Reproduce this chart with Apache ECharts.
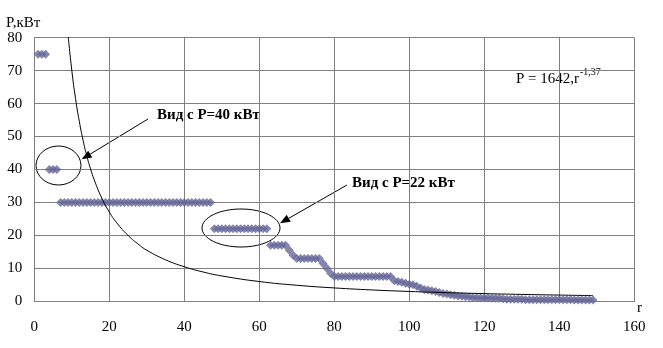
<!DOCTYPE html>
<html>
<head>
<meta charset="utf-8">
<script src="https://cdn.jsdelivr.net/npm/echarts@6/dist/echarts.min.js"></script>
<style>html,body{margin:0;padding:0;background:#fff;}#c{width:663px;height:348px;}</style>
</head>
<body>
<div id="c"></div>
<script>
// Ranked power values (r = 1..149), kW
var powerValues = [
  75, 75, 75,
  40, 40, 40,
  30, 30, 30, 30, 30, 30, 30, 30, 30, 30, 30, 30, 30, 30, 30, 30, 30, 30, 30, 30, 30,
  30, 30, 30, 30, 30, 30, 30, 30, 30, 30, 30, 30, 30, 30, 30, 30, 30, 30, 30, 30,
  22, 22, 22, 22, 22, 22, 22, 22, 22, 22, 22, 22, 22, 22, 22,
  17, 17, 17, 17, 17,
  15.5, 14,
  13, 13, 13, 13, 13, 13, 13,
  11.5, 10, 8.5,
  7.5, 7.5, 7.5, 7.5, 7.5, 7.5, 7.5, 7.5, 7.5, 7.5, 7.5, 7.5, 7.5, 7.5, 7.5, 7.5,
  6.2, 6, 5.8, 5.5, 5.2, 5, 4.6, 4, 3.6, 3.4, 3.2, 3, 2.7, 2.4, 2.2, 2, 1.8, 1.6, 1.5, 1.4, 1.3,
  1.1, 1.1, 1, 1, 1, 0.9, 0.9, 0.9, 0.8,
  0.6, 0.6, 0.6, 0.6, 0.6, 0.5, 0.5, 0.5, 0.5, 0.5, 0.5, 0.5, 0.5, 0.5, 0.5, 0.5,
  0.5, 0.5, 0.4, 0.4, 0.4, 0.4, 0.4, 0.4
];
// Trend curve
var trendR = [9, 10, 11, 12, 13, 14, 15, 16, 18, 20, 22, 25, 28, 30, 35, 40, 45, 50, 60, 70, 80, 90, 100, 110, 120, 130, 140, 149];
var trendP = [80.9, 70.1, 61.5, 54.6, 48.9, 44.1, 40.2, 36.8, 31.3, 27.1, 23.8, 20.0, 17.1, 15.5, 12.6, 10.5, 8.9, 7.7, 6.0, 4.87, 4.06, 3.45, 2.99, 2.62, 2.33, 2.09, 1.89, 1.73];
var xTicks = [0, 20, 40, 60, 80, 100, 120, 140, 160];
var yTicks = [0, 10, 20, 30, 40, 50, 60, 70, 80];

var scatterData = powerValues.map(function (v, i) { return [i + 1, v]; });
var trendData = trendR.map(function (r, i) { return [r, trendP[i]]; });

var serif = '"Liberation Serif", "Times New Roman", serif';
var chart = echarts.init(document.getElementById('c'));

function arrow(x1, y1, x2, y2) {
  var dx = x2 - x1, dy = y2 - y1, L = Math.sqrt(dx * dx + dy * dy);
  var ux = dx / L, uy = dy / L, hl = 10, hw = 4;
  var bx = x2 - ux * hl, by = y2 - uy * hl;
  return [
    { type: 'line', shape: { x1: x1, y1: y1, x2: bx, y2: by }, style: { stroke: '#000', lineWidth: 1 } },
    { type: 'polygon', shape: { points: [[x2, y2], [bx - uy * hw, by + ux * hw], [bx + uy * hw, by - ux * hw]] }, style: { fill: '#000' } }
  ];
}

var graphics = [
  { type: 'text', left: 6, top: 16, style: { text: 'P,кВт', font: '15px ' + serif, fill: '#000' } },
  { type: 'text', left: 637, top: 301, style: { text: 'r', font: '15px ' + serif, fill: '#000' } },
  { type: 'text', left: 516, top: 72, style: { text: 'P = 1642,r', font: '15px ' + serif, fill: '#000' } },
  { type: 'text', left: 580, top: 67, style: { text: '-1,37', font: '10px ' + serif, fill: '#000' } },
  { type: 'ellipse', shape: { cx: 58.5, cy: 165.5, rx: 22.5, ry: 19.5 }, style: { fill: 'none', stroke: '#000', lineWidth: 1 } },
  { type: 'ellipse', shape: { cx: 241, cy: 228, rx: 39, ry: 19 }, style: { fill: 'none', stroke: '#000', lineWidth: 1 } },
  { type: 'text', left: 157, top: 108, style: { text: 'Вид с P=40 кВт', font: 'bold 15px ' + serif, fill: '#000' } },
  { type: 'text', left: 352, top: 176, style: { text: 'Вид с P=22 кВт', font: 'bold 15px ' + serif, fill: '#000' } }
].concat(arrow(148, 119, 81.7, 159.3)).concat(arrow(347, 185, 280, 223.3));

chart.setOption({
  animation: false,
  backgroundColor: '#fff',
  grid: { left: 34.3, right: 28.7, top: 37.7, bottom: 46.7, containLabel: false },
  xAxis: {
    type: 'value', min: xTicks[0], max: xTicks[xTicks.length - 1], interval: 20,
    axisLine: { show: true, lineStyle: { color: '#808080', width: 1 } },
    axisTick: { show: false },
    splitLine: { show: true, lineStyle: { color: '#808080', width: 1 } },
    axisLabel: { color: '#000', fontFamily: serif, fontSize: 15, margin: 18 }
  },
  yAxis: {
    type: 'value', min: yTicks[0], max: yTicks[yTicks.length - 1], interval: 10,
    axisLine: { show: true, lineStyle: { color: '#808080', width: 1 } },
    axisTick: { show: false },
    splitLine: { show: true, lineStyle: { color: '#808080', width: 1 } },
    axisLabel: { color: '#000', fontFamily: serif, fontSize: 15, margin: 12 }
  },
  series: [
    {
      type: 'scatter', data: scatterData, symbol: 'diamond', symbolSize: [9, 9],
      itemStyle: { color: '#666699' }, z: 3
    },
    {
      type: 'line', data: trendData, symbol: 'none', smooth: true, clip: true,
      lineStyle: { color: '#000', width: 1 }, z: 4
    }
  ],
  graphic: graphics
});
</script>
</body>
</html>
